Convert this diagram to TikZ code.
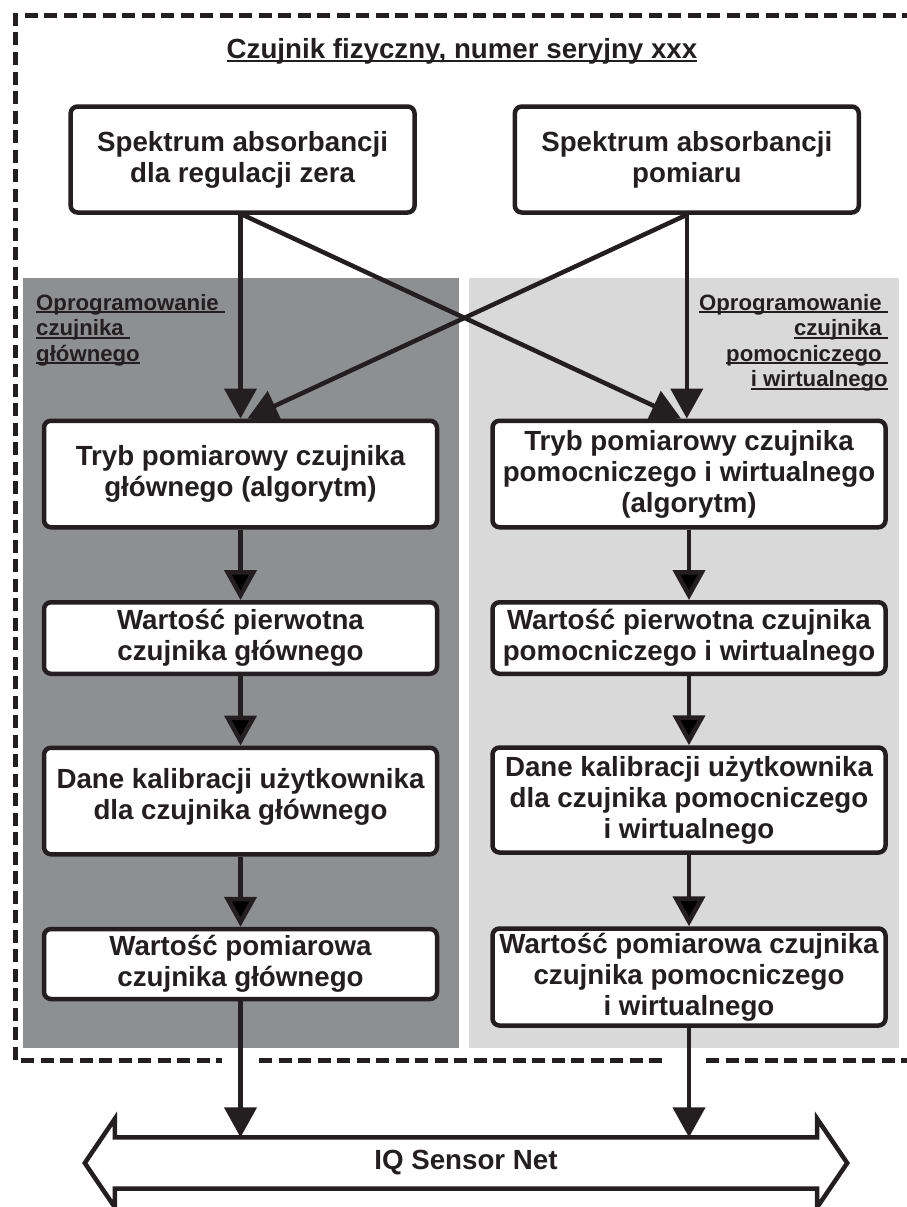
\documentclass[tikz,border=0pt]{standalone}
\usepackage{fontspec}
\setmainfont{Liberation Sans}
\usetikzlibrary{arrows.meta,calc}

\definecolor{ink}{HTML}{231F20}
\definecolor{darkpanel}{HTML}{8E8F91}
\definecolor{lightpanel}{HTML}{D9D9D9}

\newcommand\boxfont{\fontsize{27.7}{31}\selectfont\bfseries}
\newcommand\labelfont{\fontsize{22.2}{25.5}\selectfont\bfseries}
\newcommand\ulin[1]{\setbox0\hbox{#1}\rlap{\rule[-2.8pt]{\wd0}{2pt}}\box0}

\tikzset{
  box/.style={draw=ink, line width=4.5pt, rounded corners=7pt, fill=white,
    align=center, font=\boxfont, text=ink, minimum width=393pt, inner sep=4pt},
  topbox/.style={box, minimum width=344pt, minimum height=106pt},
  flow/.style={draw=ink, line width=4.5pt, -{Triangle[length=30pt,width=32pt]}},
  frame/.style={draw=ink, line width=5pt, dash pattern=on 13pt off 6.5pt},
  swlabel/.style={font=\labelfont, text=ink, inner sep=0pt},
}

\begin{document}
\begin{tikzpicture}[x=1pt,y=-1pt]
\useasboundingbox (0,0) rectangle (906,1207);

% sensor frame
\draw[frame] (915,16) -- (15,16) -- (15,1060) -- (222,1060);
\draw[frame] (259,1060) -- (668,1060);
\draw[frame] (706,1060) -- (915,1060);

% software areas
\fill[darkpanel] (23,278) rectangle (459,1048);
\fill[lightpanel] (469,278) rectangle (899,1048);

\node (title) at (462,59) [anchor=base, font=\boxfont, text=ink, inner sep=0pt]
  {\ulin{Czujnik fizyczny, numer seryjny xxx}};

\node (mainsw) at (36,294) [swlabel, anchor=north west, align=left]
  {\ulin{Oprogramowanie\ }\\\ulin{czujnika\ }\\\ulin{głównego}};
\node (auxsw) at (888,294) [swlabel, anchor=north east, align=right]
  {\ulin{Oprogramowanie\ }\\\ulin{czujnika\ }\\\ulin{pomocniczego\ }\\\ulin{i wirtualnego}};

\node (zero) at (242.6,159.5) [topbox] {Spektrum absorbancji\\dla regulacji zera};
\node (meas) at (686.8,159.5) [topbox] {Spektrum absorbancji\\pomiaru};

% main sensor
\node (mode1) at (240.5,474) [box, minimum height=106.5pt] {Tryb pomiarowy czujnika\\głównego (algorytm)};
\node (raw1) at (240.5,638) [box, minimum height=71.5pt] {Wartość pierwotna\\czujnika głównego};
\node (cal1) at (240.5,801) [box, minimum height=106.5pt, text depth=14pt] {Dane kalibracji użytkownika\\dla czujnika głównego};
\node (val1) at (240.5,964) [box, minimum height=70pt] {Wartość pomiarowa\\czujnika głównego};

% secondary and virtual sensor
\node (mode2) at (689,474) [box, minimum height=106.5pt] {Tryb pomiarowy czujnika\\pomocniczego i wirtualnego\\(algorytm)};
\node (raw2) at (689,638) [box, minimum height=71.5pt] {Wartość pierwotna czujnika\\pomocniczego i wirtualnego};
\node (cal2) at (689,800) [box, minimum height=105pt] {Dane kalibracji użytkownika\\dla czujnika pomocniczego\\i wirtualnego};
\node (val2) at (689,977) [box, minimum height=97pt] {Wartość pomiarowa czujnika\\czujnika pomocniczego\\i wirtualnego};

\node (bus) at (466,1163) [minimum width=702pt, minimum height=51pt, inner sep=0pt,
  font=\boxfont, text=ink] {IQ Sensor Net};
\draw[ink, line width=4.5pt, line join=miter]
  (bus.north west) -- ++(0,-18.5) -- ($(bus.west)+(-30,0)$) -- ($(bus.south west)+(0,18.5)$)
  -- (bus.south west) -- (bus.south east) -- ++(0,18.5) -- ($(bus.east)+(30,0)$)
  -- ($(bus.north east)+(0,-18.5)$) -- (bus.north east) -- cycle;

\draw[flow] (zero.south -| mode1.north) -- (mode1.north);
\draw[flow] (zero.south) -- ($(mode2.north)+(-8,0)$);
\draw[flow] (meas.south) -- ($(mode1.north)+(7,0)$);
\draw[flow] (meas.south) -- (meas.south |- mode2.north);

\path[flow]
    (mode1) edge (raw1)
    (raw1) edge (cal1)
    (cal1) edge (val1)
    (mode2) edge (raw2)
    (raw2) edge (cal2)
    (cal2) edge (val2);

\draw[flow] (val1.south) -- (val1.south |- bus.north);
\draw[flow] (val2.south) -- (val2.south |- bus.north);
\end{tikzpicture}
\end{document}
